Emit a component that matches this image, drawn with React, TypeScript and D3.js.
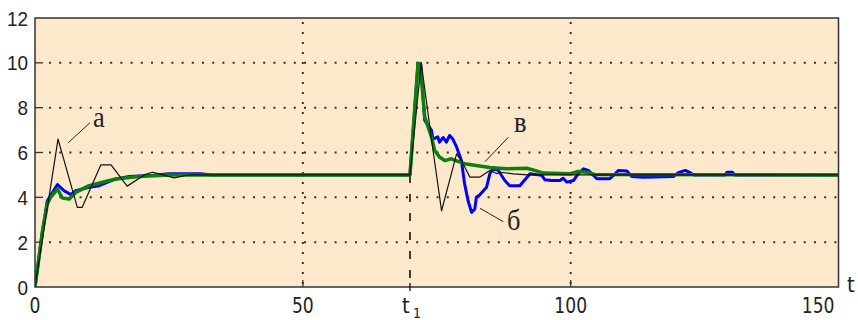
import React from 'react';
import * as d3 from 'd3';

type Pt = [number, number];

// time axis ticks and value axis ticks
const X_TICKS = [0, 50, 100, 150];
const Y_TICKS = [0, 2, 4, 6, 8, 10, 12];
const GRID_X = [50, 100];
const GRID_Y = [2, 4, 6, 8, 10];
const T1 = 70;

// curve "а" (black, thin)
const seriesA: Pt[] = [
  [0, 0], [4.3, 6.6], [7.9, 3.55], [8.8, 3.55], [12.3, 5.45], [14.2, 5.45], [17.2, 4.5],
  [20.4, 5.0], [21.9, 5.12], [23.2, 5.05], [26, 4.87], [28.2, 4.98], [30, 5.0],
  [70, 5.0], [72.1, 10.0], [74.3, 6.1], [75.9, 3.4], [78.7, 5.94], [79.6, 5.64],
  [81.2, 4.9], [83, 4.9], [84.9, 5.2], [86.2, 5.06], [86.8, 5.12], [89.3, 5.05],
  [92, 5.0], [150, 5.0],
];

// curve "б" (blue)
const seriesB: Pt[] = [
  [0, 0], [1.4, 2.5], [2.3, 3.85], [4.2, 4.57], [5.4, 4.3], [6.7, 4.12], [7.6, 4.3],
  [10.1, 4.45], [12, 4.52], [15.1, 4.82], [17.6, 4.93], [22, 4.98], [25, 5.05], [31, 5.05],
  [33, 5.0], [70, 5.0], [71.5, 9.97], [72, 9.97], [72.75, 7.43], [74, 7.0], [74.3, 6.6],
  [75.2, 6.7], [75.5, 6.46], [76.2, 6.67], [76.8, 6.46], [77.4, 6.76], [78, 6.6],
  [78.7, 6.25], [79.6, 5.64], [80.2, 4.6], [80.85, 3.85], [81.5, 3.33], [82.1, 3.48],
  [82.4, 4.0], [83, 4.1], [84.3, 4.45], [84.9, 5.05], [85.5, 5.27], [86.5, 5.2],
  [87.7, 4.75], [88.6, 4.52], [90.5, 4.52], [91.7, 4.85], [92.4, 5.05], [94.6, 4.98],
  [95.2, 4.78], [96.4, 4.75], [98, 4.75], [98.6, 4.85], [99.3, 4.68], [100.5, 4.75],
  [101.4, 5.05], [102.4, 5.27], [103.3, 5.2], [104.9, 4.83], [107.3, 4.83], [108.3, 5.05],
  [108.9, 5.2], [110.5, 5.17], [111.4, 4.93], [113.6, 4.9], [119.2, 4.93], [120.1, 5.1],
  [121.4, 5.2], [122.3, 5.1], [123, 5.0], [128.8, 5.0], [129.2, 5.12], [130.2, 5.12],
  [130.6, 5.0], [150, 5.0],
];

// curve "в" (green)
const seriesC: Pt[] = [
  [0, 0], [1.4, 2.5], [2.3, 3.7], [2.9, 4.0], [4.2, 4.37], [5.1, 3.97], [6.4, 3.93],
  [7.6, 4.22], [10.1, 4.52], [12.6, 4.67], [15.1, 4.82], [19.4, 4.93], [25, 5.0],
  [70, 5.0], [71.5, 9.97], [71.9, 9.97], [72.75, 7.6], [74, 6.7], [74.6, 6.1],
  [75.5, 5.8], [76.5, 5.64], [77.7, 5.72], [79, 5.6], [80.2, 5.5], [84.9, 5.33],
  [88, 5.27], [91.8, 5.3], [93.3, 5.2], [94.9, 5.08], [99.9, 5.05], [101.4, 5.15],
  [103, 5.12], [104.5, 5.02], [150, 5.0],
];

export default function App() {
  const W = 858, H = 320;
  const x = d3.scaleLinear().domain([0, 150]).range([35, 838.5]);
  const y = d3.scaleLinear().domain([0, 12]).range([287, 18]);
  const line = d3.line<Pt>().x(d => x(d[0])).y(d => y(d[1]));
  const x0 = x(0), x1 = x(150), yTop = y(12), yBot = y(0);

  const sq = (tx: number, ty: number, s: number) => `translate(${tx},${ty}) scale(${s},1)`;

  return (
    <svg width={W} height={H} style={{ position: 'absolute', left: 0, top: 0, background: '#fff' }}>
      <defs>
        <clipPath id="plotclip">
          <rect x={x0} y={yTop} width={x1 - x0} height={yBot - yTop} />
        </clipPath>
      </defs>
      <rect x={x0} y={yTop} width={x1 - x0} height={yBot - yTop} fill="#FCE8CA" />

      {GRID_Y.map(v => (
        <line key={'gy' + v} x1={x0 + 14} x2={x1} y1={y(v)} y2={y(v)}
          stroke="#333" strokeWidth={2} strokeDasharray="2 8.2" />
      ))}
      {GRID_X.map(v => (
        <line key={'gx' + v} x1={x(v)} x2={x(v)} y1={yTop + 4} y2={yBot}
          stroke="#333" strokeWidth={2} strokeDasharray="2 8" />
      ))}
      <line x1={x(T1)} x2={x(T1)} y1={y(5)} y2={yBot} stroke="#111" strokeWidth={1.6} strokeDasharray="8 11" />

      <g clipPath="url(#plotclip)" fill="none" strokeLinejoin="round" strokeLinecap="round">
        <path d={line(seriesB) || ''} stroke="#0000FF" strokeWidth={3} />
        <path d={line(seriesC) || ''} stroke="#0A820A" strokeWidth={3.5} />
        <path d={line(seriesA) || ''} stroke="#111" strokeWidth={1.2} />
      </g>

      <rect x={x0} y={yTop} width={x1 - x0} height={yBot - yTop} fill="none" stroke="#333" strokeWidth={1.5} />

      {GRID_Y.map(v => (
        <line key={'ty' + v} x1={x0} x2={x0 + 8} y1={y(v)} y2={y(v)} stroke="#333" strokeWidth={1.3} />
      ))}
      {GRID_X.map(v => (
        <line key={'tx' + v} x1={x(v)} x2={x(v)} y1={yBot} y2={yBot - 7} stroke="#333" strokeWidth={1.3} />
      ))}
      <line x1={x(T1)} x2={x(T1)} y1={yBot - 4} y2={yBot + 4} stroke="#111" strokeWidth={1.3} />

      <g fontFamily="'Liberation Sans', Arial, sans-serif" fontSize={21} fill="#222" textAnchor="end">
        {Y_TICKS.map(v => (
          <text key={'yl' + v} transform={sq(28, y(v) + 7.5, 0.9)}>{v}</text>
        ))}
      </g>

      <g fontFamily="'DejaVu Sans', sans-serif" fontSize={22} fill="#222">
        {X_TICKS.map(v => (
          <text key={'xl' + v} transform={sq(v === 150 ? x(v) - 4 : x(v), 313, 0.78)}
            textAnchor={v === 150 ? 'end' : 'middle'}>{v}</text>
        ))}
        <text transform={sq(847, 292, 0.9)}>t</text>
        <text transform={sq(402, 313, 0.9)}>t</text>
        <text transform={sq(413, 318, 0.9)} fontSize={14}>1</text>
      </g>

      <g stroke="#222" strokeWidth={1}>
        <line x1={90} y1={122.7} x2={68.3} y2={142.7} />
        <line x1={508.3} y1={137.3} x2={485} y2={161.7} />
        <line x1={480} y1={208.3} x2={503.3} y2={221.7} />
      </g>
      <g fontFamily="'Liberation Serif', 'Times New Roman', serif" fontSize={30} fill="#222">
        <text transform={sq(93, 127, 0.88)}>а</text>
        <text transform={sq(514, 132, 0.88)}>в</text>
        <text transform={sq(507, 230, 0.88)}>б</text>
      </g>
    </svg>
  );
}
